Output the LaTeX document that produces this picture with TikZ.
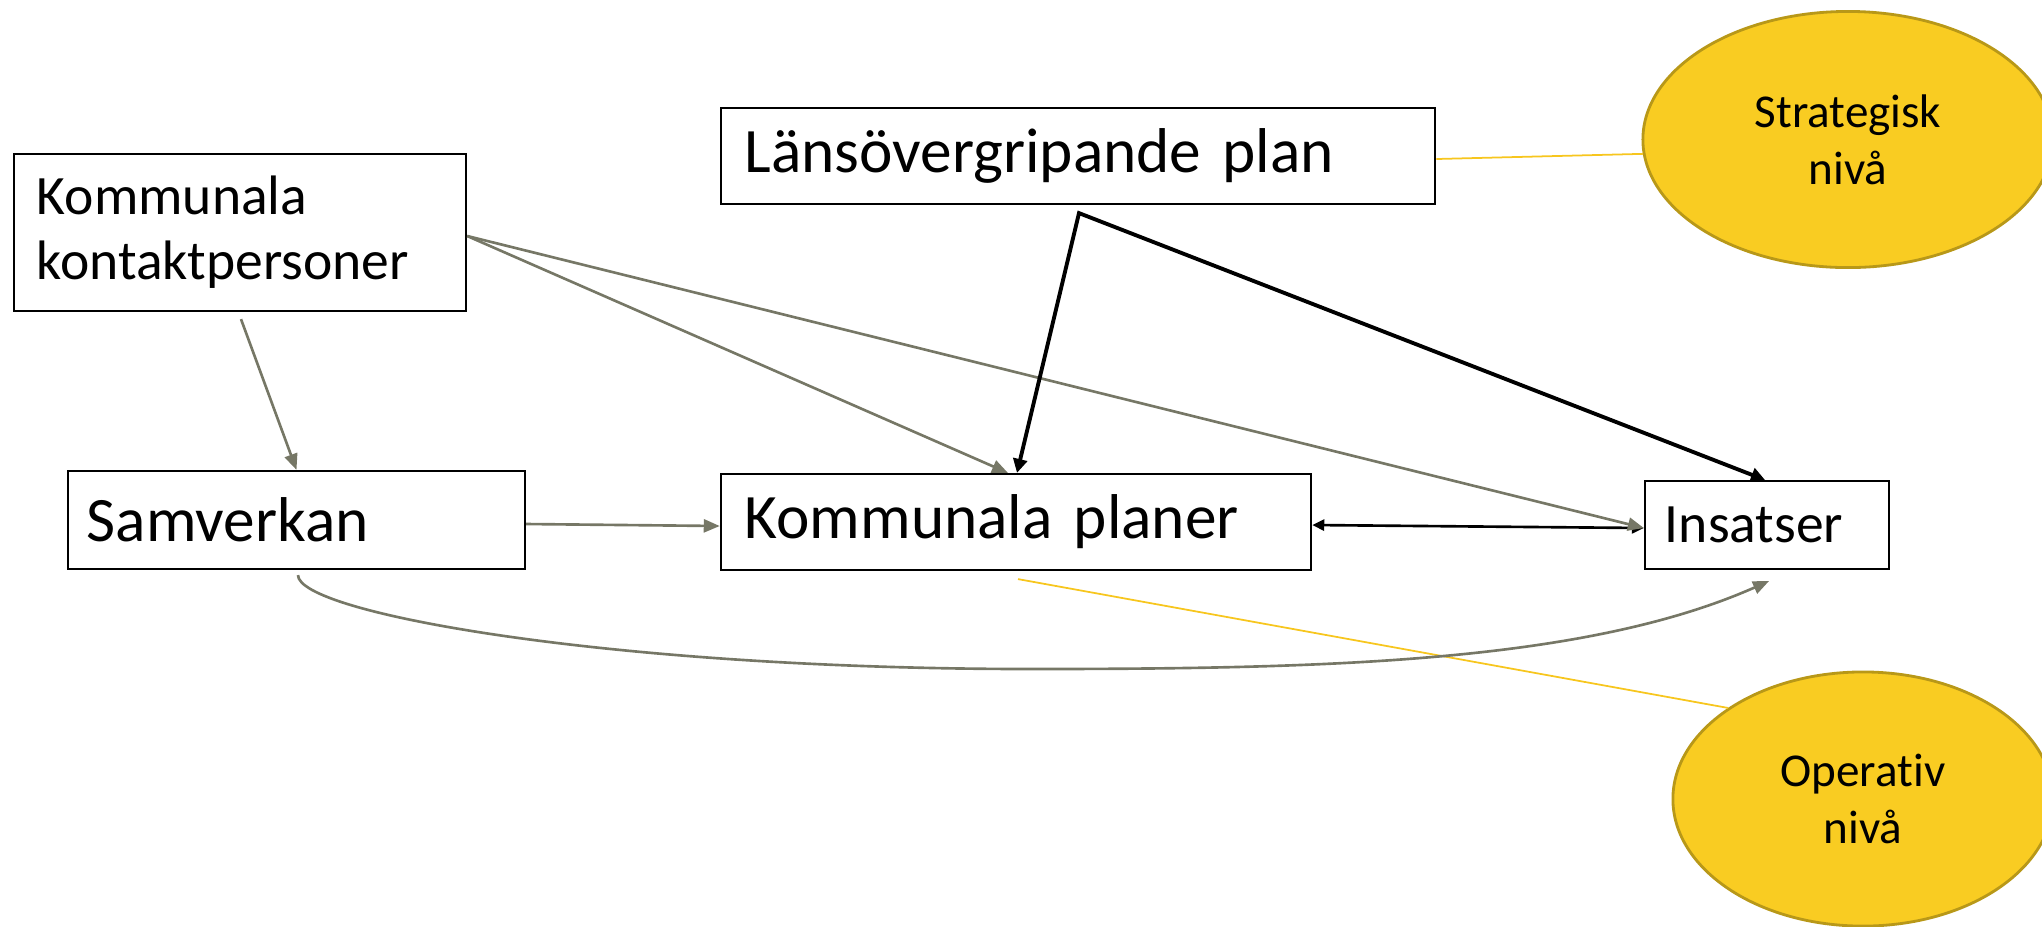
\documentclass[tikz,border=0pt]{standalone}
\usepackage{fontspec}
\setmainfont{Carlito}[Ligatures=NoCommon]
\usetikzlibrary{arrows.meta,shapes.geometric,calc}
\definecolor{ellfill}{RGB}{249,204,34}
\definecolor{elldraw}{RGB}{184,152,24}
\definecolor{yline}{RGB}{247,198,30}
\definecolor{gline}{RGB}{118,119,102}
\begin{document}
\begin{tikzpicture}[x=0.01cm,y=-0.01cm,
  box/.style={draw=black, line width=0.6pt, fill=white, inner ysep=0pt, align=left},
  ell/.style={ellipse, draw=elldraw, line width=0.8pt, fill=ellfill, inner sep=0pt, align=center,
              font=\fontsize{13.4}{16.2}\selectfont},
  bigtxt/.style={font=\fontsize{18}{21.6}\selectfont},
  midtxt/.style={font=\fontsize{15.8}{18.5}\selectfont},
  gconn/.style={draw=gline, line width=0.75pt, -{Triangle[length=0.16cm,width=0.13cm]}},
  bconn/.style={draw=black, line width=1.1pt, {Triangle[length=0.14cm,width=0.14cm]}-{Triangle[length=0.14cm,width=0.14cm]}},
  dconn/.style={draw=black, line width=0.75pt, {Triangle[length=0.12cm,width=0.11cm]}-{Triangle[length=0.12cm,width=0.11cm]}},
  yconn/.style={draw=yline, line width=0.5pt}]
\useasboundingbox (0,0) rectangle (2042,926);
\clip (0,0) rectangle (2042,926);

% boxes
\node[box, midtxt, minimum width=4.52cm, minimum height=1.57cm, text width=4.06cm, inner xsep=0.23cm] (K) at (240,232.5) {Kommunala\\kontaktpersoner};
\node[box, bigtxt, minimum width=7.14cm, minimum height=0.96cm, text width=6.66cm, inner xsep=0.24cm] (L) at (1078,156) {Länsövergripande plan};
\node[box, bigtxt, minimum width=4.57cm, minimum height=0.98cm, text width=4.19cm, inner xsep=0.19cm] (S) at (296.5,520) {Samverkan};
\node[box, bigtxt, minimum width=5.90cm, minimum height=0.96cm, text width=5.42cm, inner xsep=0.24cm] (P) at (1016,522) {Kommunala planer};
\node[box, midtxt, minimum width=2.44cm, minimum height=0.88cm, text width=2.04cm, inner xsep=0.20cm] (I) at (1767,525) {Insatser};

% ellipses
\node[ell, minimum width=4.10cm, minimum height=2.56cm] (strat) at (1848,139.5) {Strategisk\\nivå};
\node[ell, minimum width=3.80cm, minimum height=2.54cm] (oper) at (1863,799) {Operativ\\nivå};

% yellow connectors
\draw[yconn] ($(L.east)+(0,3)$) -- (strat.184);
\draw[yconn] ($(P.south)+(2,8)$) -- (oper.146);

% double arrow between planer and insatser
\draw[dconn] ($(P.east)+(0,3)$) -- ($(I.west)+(0,3)$);

% grey connectors
\draw[gconn] ($(K.south)+(1,7)$) -- (S.north);
\draw[gconn] ($(K.east)+(0,3.5)$) -- ($(P.north)+(-8,0)$);
\draw[gconn] ($(K.east)+(0,3.5)$) -- ($(I.west)+(0,3)$);
\draw[gconn] ($(S.east)+(0,4)$) -- ($(P.west)+(0,4)$);
\coordinate (cbot) at (1030,669);
\draw[gconn] ($(S.south)+(1.5,5)$) .. controls +(0,38) and +(-420,0) .. (cbot)
   .. controls +(300,0) and +(-183,81) .. ($(I.south)+(2,11)$);

% black connectors from Länsövergripande plan
\coordinate (apex) at ($(L.south)+(1,8)$);
\draw[bconn] ($(P.north)+(1,0)$) -- (apex) -- ($(I.north)+(-2,0)$);
\end{tikzpicture}
\end{document}
